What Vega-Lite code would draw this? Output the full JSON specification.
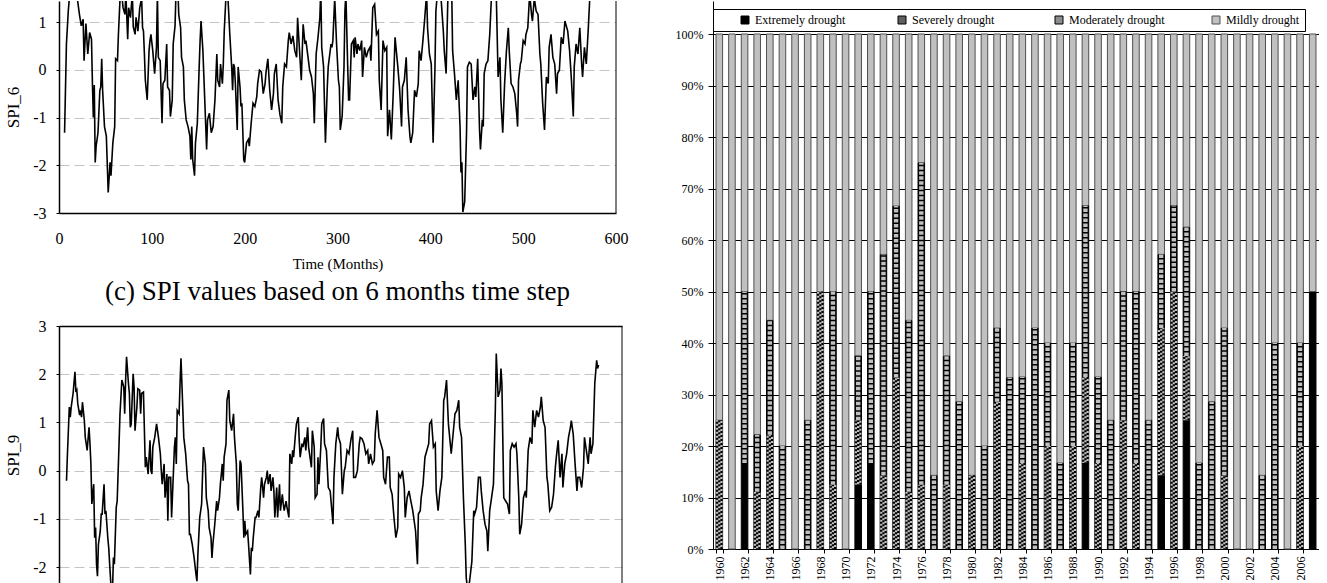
{
  "$schema": "https://vega.github.io/schema/vega-lite/v6.json",
  "padding": {"left": 4, "top": 0, "right": 0, "bottom": 0},
  "background": "white",
  "config": {
    "font": "Liberation Serif",
    "view": {"stroke": null},
    "axis": {"labelFont": "Liberation Serif", "titleFont": "Liberation Serif", "labelColor": "#000000", "titleColor": "#000000", "titleFontWeight": "normal", "domainColor": "#000000", "tickColor": "#000000"},
    "title": {"font": "Liberation Serif", "fontWeight": "normal", "color": "#000000"},
    "legend": {"labelFont": "Liberation Serif", "labelColor": "#000000"}
  },
  "resolve": {"scale": {"fill": "independent", "stroke": "independent"}, "legend": {"fill": "independent", "stroke": "independent"}},
  "datasets": {
    "spi6": [
      {"month":6,"spi":-1.32},{"month":8,"spi":0.54},{"month":10,"spi":1.23},{"month":12,"spi":1.7},{"month":15,"spi":1.9},{"month":19,"spi":1.6},{"month":22,"spi":1.16},{"month":24,"spi":0.92},{"month":26,"spi":1.06},{"month":27,"spi":0.19},{"month":29,"spi":0.97},{"month":31,"spi":0.33},{"month":33,"spi":0.78},{"month":35,"spi":0.64},{"month":36,"spi":-0.29},{"month":37,"spi":-1.0},{"month":38,"spi":-0.32},{"month":39,"spi":-1.94},{"month":40,"spi":-1.6},{"month":42,"spi":-1.32},{"month":44,"spi":-0.43},{"month":45,"spi":-0.36},{"month":46,"spi":0.23},{"month":47,"spi":-0.43},{"month":49,"spi":-1.19},{"month":51,"spi":-1.39},{"month":53,"spi":-2.57},{"month":55,"spi":-1.94},{"month":56,"spi":-2.22},{"month":58,"spi":-1.53},{"month":60,"spi":-1.19},{"month":61,"spi":0.23},{"month":63,"spi":0.19},{"month":64,"spi":0.74},{"month":66,"spi":1.6},{"month":67,"spi":1.7},{"month":69,"spi":1.3},{"month":71,"spi":1.16},{"month":72,"spi":1.6},{"month":74,"spi":0.64},{"month":75,"spi":1.3},{"month":77,"spi":1.09},{"month":79,"spi":1.6},{"month":80,"spi":0.9},{"month":82,"spi":0.74},{"month":83,"spi":1.1},{"month":85,"spi":0.81},{"month":87,"spi":1.3},{"month":89,"spi":1.5},{"month":90,"spi":0.88},{"month":91,"spi":0.81},{"month":92,"spi":0.33},{"month":93,"spi":-0.22},{"month":95,"spi":-0.63},{"month":97,"spi":0.4},{"month":98,"spi":0.61},{"month":99,"spi":0.74},{"month":101,"spi":0.4},{"month":103,"spi":-0.08},{"month":105,"spi":0.47},{"month":106,"spi":1.6},{"month":107,"spi":0.26},{"month":109,"spi":0.19},{"month":111,"spi":-1.12},{"month":112,"spi":-0.29},{"month":114,"spi":-0.22},{"month":116,"spi":0.54},{"month":117,"spi":-0.36},{"month":119,"spi":-0.43},{"month":120,"spi":-0.98},{"month":122,"spi":-0.63},{"month":123,"spi":0.54},{"month":125,"spi":0.92},{"month":126,"spi":1.6},{"month":128,"spi":1.7},{"month":129,"spi":1.16},{"month":131,"spi":0.88},{"month":132,"spi":0.26},{"month":134,"spi":0.06},{"month":135,"spi":-0.63},{"month":137,"spi":-1.05},{"month":139,"spi":-1.19},{"month":141,"spi":-1.39},{"month":142,"spi":-1.88},{"month":143,"spi":-1.19},{"month":144,"spi":-1.88},{"month":146,"spi":-2.22},{"month":147,"spi":-1.53},{"month":149,"spi":-1.12},{"month":151,"spi":0.06},{"month":152,"spi":0.61},{"month":153,"spi":1.02},{"month":155,"spi":0.4},{"month":157,"spi":-0.63},{"month":159,"spi":-1.67},{"month":160,"spi":-1.05},{"month":162,"spi":-0.91},{"month":164,"spi":-1.32},{"month":166,"spi":-1.19},{"month":168,"spi":-0.63},{"month":170,"spi":0.33},{"month":171,"spi":-0.22},{"month":173,"spi":-0.36},{"month":174,"spi":0.12},{"month":176,"spi":-0.29},{"month":177,"spi":0.12},{"month":178,"spi":0.81},{"month":180,"spi":1.6},{"month":182,"spi":1.5},{"month":184,"spi":0.74},{"month":186,"spi":0.06},{"month":187,"spi":-0.43},{"month":188,"spi":0.12},{"month":189,"spi":0.06},{"month":190,"spi":-0.29},{"month":192,"spi":-1.26},{"month":193,"spi":0.06},{"month":195,"spi":-0.36},{"month":196,"spi":-0.77},{"month":197,"spi":-0.7},{"month":199,"spi":-1.88},{"month":200,"spi":-1.94},{"month":202,"spi":-1.53},{"month":204,"spi":-1.46},{"month":205,"spi":-1.6},{"month":207,"spi":-1.12},{"month":209,"spi":-0.7},{"month":211,"spi":-0.77},{"month":213,"spi":-0.57},{"month":214,"spi":-0.29},{"month":216,"spi":-0.01},{"month":218,"spi":-0.05},{"month":220,"spi":-0.5},{"month":222,"spi":-0.29},{"month":223,"spi":-0.05},{"month":225,"spi":0.23},{"month":227,"spi":-0.43},{"month":229,"spi":-0.84},{"month":231,"spi":-0.5},{"month":232,"spi":-0.08},{"month":234,"spi":0.12},{"month":236,"spi":-0.63},{"month":238,"spi":-0.94},{"month":240,"spi":-1.12},{"month":241,"spi":-0.36},{"month":243,"spi":0.12},{"month":245,"spi":0.06},{"month":247,"spi":0.61},{"month":248,"spi":0.78},{"month":250,"spi":0.54},{"month":252,"spi":0.71},{"month":254,"spi":0.4},{"month":256,"spi":0.26},{"month":257,"spi":1.09},{"month":261,"spi":-0.22},{"month":263,"spi":0.95},{"month":265,"spi":0.54},{"month":266,"spi":0.61},{"month":268,"spi":0.3},{"month":270,"spi":-0.01},{"month":272,"spi":-0.15},{"month":274,"spi":-0.5},{"month":275,"spi":-1.12},{"month":277,"spi":0.33},{"month":279,"spi":0.68},{"month":281,"spi":1.09},{"month":282,"spi":1.7},{"month":283,"spi":0.47},{"month":285,"spi":0.06},{"month":287,"spi":-1.53},{"month":289,"spi":-0.36},{"month":290,"spi":0.06},{"month":293,"spi":0.54},{"month":294,"spi":0.47},{"month":295,"spi":0.61},{"month":297,"spi":1.5},{"month":299,"spi":0.54},{"month":301,"spi":-0.22},{"month":302,"spi":-0.36},{"month":303,"spi":-1.26},{"month":305,"spi":-0.98},{"month":307,"spi":0.06},{"month":308,"spi":1.23},{"month":309,"spi":1.6},{"month":311,"spi":0.06},{"month":312,"spi":-0.63},{"month":313,"spi":-0.63},{"month":315,"spi":0.54},{"month":317,"spi":0.61},{"month":318,"spi":0.26},{"month":319,"spi":0.68},{"month":321,"spi":0.33},{"month":322,"spi":0.54},{"month":324,"spi":0.4},{"month":326,"spi":0.61},{"month":327,"spi":-0.15},{"month":329,"spi":0.47},{"month":331,"spi":0.26},{"month":333,"spi":0.4},{"month":335,"spi":0.47},{"month":336,"spi":0.19},{"month":338,"spi":1.3},{"month":340,"spi":1.37},{"month":342,"spi":0.74},{"month":344,"spi":0.81},{"month":345,"spi":-0.22},{"month":347,"spi":-0.84},{"month":349,"spi":0.61},{"month":351,"spi":0.4},{"month":353,"spi":0.47},{"month":354,"spi":-1.39},{"month":356,"spi":-0.84},{"month":358,"spi":-1.46},{"month":360,"spi":-0.5},{"month":362,"spi":0.68},{"month":363,"spi":0.47},{"month":365,"spi":0.06},{"month":367,"spi":-0.43},{"month":369,"spi":-1.19},{"month":370,"spi":-0.36},{"month":372,"spi":-0.22},{"month":374,"spi":0.26},{"month":376,"spi":-0.84},{"month":378,"spi":-1.39},{"month":379,"spi":-1.53},{"month":381,"spi":-1.32},{"month":383,"spi":-0.43},{"month":385,"spi":-0.57},{"month":387,"spi":-0.29},{"month":388,"spi":0.4},{"month":390,"spi":0.19},{"month":392,"spi":0.61},{"month":394,"spi":1.09},{"month":396,"spi":1.6},{"month":397,"spi":0.88},{"month":399,"spi":0.33},{"month":401,"spi":0.12},{"month":403,"spi":-1.53},{"month":405,"spi":0.06},{"month":406,"spi":1.23},{"month":408,"spi":1.7},{"month":410,"spi":1.9},{"month":412,"spi":1.37},{"month":414,"spi":0.81},{"month":415,"spi":0.4},{"month":417,"spi":-0.08},{"month":419,"spi":1.6},{"month":421,"spi":2.0},{"month":423,"spi":1.7},{"month":424,"spi":0.4},{"month":426,"spi":-0.08},{"month":428,"spi":-0.63},{"month":430,"spi":-0.22},{"month":432,"spi":-1.19},{"month":433,"spi":-2.15},{"month":434,"spi":-1.94},{"month":435,"spi":-2.98},{"month":437,"spi":-2.77},{"month":439,"spi":-1.32},{"month":440,"spi":0.06},{"month":442,"spi":0.16},{"month":444,"spi":0.12},{"month":446,"spi":-0.63},{"month":448,"spi":-0.36},{"month":449,"spi":-0.57},{"month":451,"spi":0.23},{"month":453,"spi":-1.26},{"month":454,"spi":-1.67},{"month":456,"spi":-1.05},{"month":457,"spi":-1.19},{"month":458,"spi":-0.08},{"month":460,"spi":0.12},{"month":462,"spi":0.19},{"month":464,"spi":0.74},{"month":466,"spi":1.6},{"month":469,"spi":2.0},{"month":471,"spi":1.6},{"month":473,"spi":-0.15},{"month":475,"spi":0.26},{"month":476,"spi":-0.63},{"month":478,"spi":-1.32},{"month":480,"spi":-0.29},{"month":482,"spi":0.4},{"month":484,"spi":0.88},{"month":485,"spi":0.4},{"month":487,"spi":-0.29},{"month":489,"spi":-0.36},{"month":491,"spi":-0.5},{"month":493,"spi":-0.91},{"month":494,"spi":-1.19},{"month":495,"spi":-0.22},{"month":497,"spi":0.12},{"month":498,"spi":0.19},{"month":500,"spi":0.61},{"month":502,"spi":0.54},{"month":503,"spi":0.74},{"month":505,"spi":0.88},{"month":507,"spi":1.6},{"month":509,"spi":1.16},{"month":510,"spi":1.02},{"month":512,"spi":1.5},{"month":514,"spi":1.23},{"month":516,"spi":1.16},{"month":518,"spi":0.33},{"month":519,"spi":0.12},{"month":521,"spi":-0.7},{"month":523,"spi":-1.26},{"month":525,"spi":-0.15},{"month":527,"spi":-0.29},{"month":528,"spi":0.47},{"month":530,"spi":0.74},{"month":532,"spi":0.26},{"month":534,"spi":0.12},{"month":536,"spi":-0.5},{"month":537,"spi":-0.08},{"month":539,"spi":-0.01},{"month":541,"spi":0.68},{"month":543,"spi":0.54},{"month":545,"spi":1.02},{"month":546,"spi":0.95},{"month":548,"spi":0.81},{"month":550,"spi":0.4},{"month":552,"spi":-0.22},{"month":554,"spi":-0.98},{"month":555,"spi":0.06},{"month":557,"spi":0.54},{"month":559,"spi":0.33},{"month":561,"spi":0.88},{"month":563,"spi":0.12},{"month":564,"spi":-0.15},{"month":566,"spi":0.47},{"month":568,"spi":0.12},{"month":570,"spi":0.81},{"month":572,"spi":1.6},{"month":574,"spi":2.0}
    ],
    "spi9": [
      {"month":8,"spi":-0.21},{"month":9,"spi":0.35},{"month":11,"spi":1.32},{"month":12,"spi":1.11},{"month":13,"spi":1.32},{"month":15,"spi":1.6},{"month":17,"spi":2.05},{"month":18,"spi":1.63},{"month":19,"spi":1.67},{"month":20,"spi":1.39},{"month":22,"spi":1.15},{"month":23,"spi":1.25},{"month":24,"spi":1.11},{"month":25,"spi":1.42},{"month":27,"spi":1.04},{"month":28,"spi":0.69},{"month":29,"spi":0.56},{"month":30,"spi":0.42},{"month":32,"spi":0.9},{"month":33,"spi":0.56},{"month":34,"spi":0.14},{"month":35,"spi":-0.69},{"month":37,"spi":-0.28},{"month":38,"spi":-1.39},{"month":39,"spi":-1.18},{"month":40,"spi":-1.94},{"month":41,"spi":-2.19},{"month":42,"spi":-1.53},{"month":44,"spi":-1.25},{"month":45,"spi":-0.9},{"month":46,"spi":-0.9},{"month":48,"spi":-0.28},{"month":49,"spi":-0.9},{"month":50,"spi":-0.83},{"month":52,"spi":-1.39},{"month":53,"spi":-1.6},{"month":54,"spi":-1.94},{"month":56,"spi":-2.6},{"month":57,"spi":-2.5},{"month":58,"spi":-1.8},{"month":59,"spi":-1.94},{"month":61,"spi":-0.76},{"month":62,"spi":-0.63},{"month":64,"spi":0.56},{"month":65,"spi":1.18},{"month":67,"spi":1.88},{"month":69,"spi":1.74},{"month":70,"spi":1.18},{"month":71,"spi":1.88},{"month":72,"spi":2.36},{"month":74,"spi":1.81},{"month":75,"spi":1.6},{"month":76,"spi":0.9},{"month":77,"spi":0.97},{"month":79,"spi":2.01},{"month":80,"spi":1.74},{"month":81,"spi":0.83},{"month":83,"spi":1.32},{"month":84,"spi":1.7},{"month":86,"spi":1.67},{"month":87,"spi":1.18},{"month":88,"spi":1.6},{"month":90,"spi":1.63},{"month":92,"spi":0.07},{"month":93,"spi":0.28},{"month":95,"spi":-0.07},{"month":97,"spi":0.63},{"month":98,"spi":0.0},{"month":99,"spi":-0.07},{"month":100,"spi":0.49},{"month":102,"spi":0.69},{"month":104,"spi":0.97},{"month":106,"spi":0.69},{"month":108,"spi":0.35},{"month":109,"spi":0.0},{"month":110,"spi":-0.28},{"month":112,"spi":0.14},{"month":113,"spi":-0.56},{"month":115,"spi":-0.07},{"month":116,"spi":-1.04},{"month":117,"spi":-0.14},{"month":119,"spi":-0.14},{"month":120,"spi":-0.97},{"month":122,"spi":0.0},{"month":123,"spi":0.49},{"month":124,"spi":0.69},{"month":125,"spi":0.14},{"month":126,"spi":1.25},{"month":128,"spi":1.18},{"month":129,"spi":1.81},{"month":130,"spi":2.33},{"month":132,"spi":1.25},{"month":133,"spi":0.69},{"month":135,"spi":0.35},{"month":137,"spi":-0.21},{"month":138,"spi":-0.28},{"month":139,"spi":-1.32},{"month":140,"spi":-1.32},{"month":142,"spi":-1.53},{"month":143,"spi":-1.67},{"month":144,"spi":-1.81},{"month":146,"spi":-2.15},{"month":147,"spi":-2.29},{"month":148,"spi":-1.74},{"month":150,"spi":-0.97},{"month":152,"spi":-0.69},{"month":153,"spi":-0.07},{"month":154,"spi":0.49},{"month":156,"spi":0.14},{"month":157,"spi":-0.56},{"month":159,"spi":-0.83},{"month":160,"spi":-1.18},{"month":162,"spi":-1.39},{"month":163,"spi":-1.81},{"month":164,"spi":-1.53},{"month":166,"spi":-1.11},{"month":168,"spi":-0.63},{"month":169,"spi":-0.83},{"month":171,"spi":-0.56},{"month":172,"spi":-0.28},{"month":174,"spi":0.14},{"month":175,"spi":-0.21},{"month":176,"spi":0.28},{"month":178,"spi":0.56},{"month":179,"spi":1.46},{"month":181,"spi":1.67},{"month":182,"spi":1.04},{"month":184,"spi":0.83},{"month":186,"spi":1.18},{"month":187,"spi":0.69},{"month":189,"spi":0.14},{"month":190,"spi":-0.69},{"month":191,"spi":-0.83},{"month":193,"spi":0.21},{"month":194,"spi":0.14},{"month":196,"spi":-0.83},{"month":197,"spi":-1.39},{"month":198,"spi":-1.04},{"month":199,"spi":-1.32},{"month":201,"spi":-1.25},{"month":202,"spi":-1.53},{"month":204,"spi":-2.15},{"month":205,"spi":-1.6},{"month":206,"spi":-1.67},{"month":207,"spi":-1.39},{"month":209,"spi":-0.97},{"month":210,"spi":-0.97},{"month":212,"spi":-0.83},{"month":213,"spi":-0.97},{"month":215,"spi":-0.35},{"month":216,"spi":-0.14},{"month":218,"spi":-0.56},{"month":219,"spi":-0.28},{"month":221,"spi":-0.14},{"month":222,"spi":0.0},{"month":223,"spi":-0.28},{"month":225,"spi":-0.07},{"month":226,"spi":-0.42},{"month":228,"spi":-0.14},{"month":229,"spi":-0.42},{"month":230,"spi":-0.97},{"month":232,"spi":-0.35},{"month":233,"spi":-0.97},{"month":235,"spi":-0.28},{"month":236,"spi":-0.83},{"month":238,"spi":-0.49},{"month":239,"spi":-0.69},{"month":240,"spi":-0.83},{"month":242,"spi":-0.63},{"month":243,"spi":-0.76},{"month":245,"spi":-0.97},{"month":246,"spi":0.35},{"month":248,"spi":0.14},{"month":249,"spi":0.42},{"month":250,"spi":0.28},{"month":252,"spi":0.76},{"month":253,"spi":0.97},{"month":255,"spi":1.11},{"month":256,"spi":0.63},{"month":257,"spi":0.28},{"month":259,"spi":0.56},{"month":260,"spi":0.49},{"month":262,"spi":0.69},{"month":263,"spi":0.42},{"month":265,"spi":0.9},{"month":266,"spi":0.49},{"month":267,"spi":0.35},{"month":269,"spi":0.07},{"month":270,"spi":0.83},{"month":272,"spi":0.49},{"month":273,"spi":-0.56},{"month":275,"spi":-0.49},{"month":276,"spi":0.28},{"month":277,"spi":-0.28},{"month":279,"spi":0.49},{"month":280,"spi":0.97},{"month":282,"spi":1.08},{"month":283,"spi":0.56},{"month":285,"spi":0.42},{"month":287,"spi":-0.35},{"month":289,"spi":-0.42},{"month":292,"spi":-1.11},{"month":293,"spi":-0.14},{"month":295,"spi":0.56},{"month":297,"spi":0.9},{"month":298,"spi":0.69},{"month":300,"spi":0.56},{"month":302,"spi":-0.49},{"month":304,"spi":0.0},{"month":305,"spi":0.07},{"month":307,"spi":0.42},{"month":309,"spi":0.35},{"month":311,"spi":0.63},{"month":313,"spi":0.83},{"month":314,"spi":-0.14},{"month":316,"spi":-0.14},{"month":318,"spi":0.0},{"month":320,"spi":0.56},{"month":321,"spi":0.69},{"month":323,"spi":0.66},{"month":325,"spi":0.56},{"month":327,"spi":0.35},{"month":329,"spi":0.42},{"month":330,"spi":0.14},{"month":332,"spi":0.35},{"month":334,"spi":0.14},{"month":336,"spi":0.21},{"month":337,"spi":0.76},{"month":339,"spi":1.25},{"month":341,"spi":0.69},{"month":343,"spi":0.56},{"month":345,"spi":0.42},{"month":346,"spi":-0.14},{"month":348,"spi":-0.28},{"month":350,"spi":0.28},{"month":352,"spi":0.28},{"month":353,"spi":-0.35},{"month":355,"spi":-0.49},{"month":357,"spi":-0.97},{"month":359,"spi":-1.39},{"month":361,"spi":-1.18},{"month":362,"spi":-0.07},{"month":364,"spi":-0.14},{"month":366,"spi":0.0},{"month":368,"spi":-0.35},{"month":369,"spi":-0.97},{"month":371,"spi":-0.56},{"month":373,"spi":-0.42},{"month":375,"spi":-0.63},{"month":377,"spi":-0.83},{"month":378,"spi":-0.97},{"month":380,"spi":-1.25},{"month":382,"spi":-1.94},{"month":383,"spi":-0.9},{"month":385,"spi":-0.83},{"month":386,"spi":-0.56},{"month":388,"spi":-0.28},{"month":390,"spi":0.28},{"month":392,"spi":0.42},{"month":394,"spi":0.56},{"month":395,"spi":0.97},{"month":397,"spi":1.04},{"month":399,"spi":0.49},{"month":401,"spi":0.56},{"month":402,"spi":-0.42},{"month":404,"spi":-0.83},{"month":406,"spi":-0.42},{"month":408,"spi":-0.14},{"month":410,"spi":1.46},{"month":411,"spi":1.53},{"month":413,"spi":1.88},{"month":415,"spi":0.97},{"month":417,"spi":0.56},{"month":418,"spi":0.35},{"month":420,"spi":0.76},{"month":422,"spi":1.18},{"month":424,"spi":1.25},{"month":426,"spi":1.46},{"month":427,"spi":0.9},{"month":429,"spi":0.69},{"month":431,"spi":-0.56},{"month":433,"spi":-1.53},{"month":434,"spi":-2.22},{"month":436,"spi":-2.55},{"month":438,"spi":-2.22},{"month":440,"spi":-1.88},{"month":442,"spi":-0.83},{"month":443,"spi":-0.9},{"month":445,"spi":-0.76},{"month":447,"spi":-0.14},{"month":449,"spi":-0.14},{"month":450,"spi":-0.42},{"month":452,"spi":-0.83},{"month":454,"spi":-1.11},{"month":456,"spi":-1.25},{"month":457,"spi":-1.67},{"month":459,"spi":-0.83},{"month":461,"spi":-0.56},{"month":463,"spi":-0.28},{"month":465,"spi":1.25},{"month":466,"spi":2.43},{"month":468,"spi":1.53},{"month":470,"spi":1.67},{"month":471,"spi":2.12},{"month":472,"spi":1.81},{"month":474,"spi":-0.56},{"month":476,"spi":-0.63},{"month":478,"spi":-0.69},{"month":480,"spi":-0.9},{"month":481,"spi":0.42},{"month":483,"spi":0.56},{"month":485,"spi":0.49},{"month":487,"spi":0.56},{"month":488,"spi":0.35},{"month":490,"spi":-0.56},{"month":491,"spi":-1.32},{"month":493,"spi":-1.11},{"month":495,"spi":-0.56},{"month":497,"spi":-0.42},{"month":498,"spi":-0.56},{"month":500,"spi":0.42},{"month":502,"spi":0.69},{"month":504,"spi":0.56},{"month":505,"spi":1.25},{"month":507,"spi":0.9},{"month":509,"spi":1.25},{"month":511,"spi":1.11},{"month":513,"spi":1.32},{"month":514,"spi":1.53},{"month":516,"spi":1.04},{"month":518,"spi":0.9},{"month":520,"spi":-0.14},{"month":521,"spi":-0.28},{"month":523,"spi":-0.83},{"month":525,"spi":-0.76},{"month":527,"spi":-0.49},{"month":529,"spi":0.07},{"month":530,"spi":0.28},{"month":532,"spi":0.63},{"month":534,"spi":-0.14},{"month":536,"spi":0.35},{"month":537,"spi":-0.35},{"month":539,"spi":0.14},{"month":541,"spi":0.35},{"month":543,"spi":0.69},{"month":545,"spi":0.9},{"month":546,"spi":1.04},{"month":548,"spi":0.76},{"month":550,"spi":0.14},{"month":552,"spi":-0.42},{"month":553,"spi":-0.14},{"month":555,"spi":-0.14},{"month":557,"spi":-0.35},{"month":559,"spi":0.07},{"month":560,"spi":0.69},{"month":562,"spi":0.42},{"month":564,"spi":0.14},{"month":566,"spi":0.69},{"month":567,"spi":0.35},{"month":569,"spi":0.56},{"month":571,"spi":1.81},{"month":573,"spi":2.29},{"month":574,"spi":2.12},{"month":575,"spi":2.19}
    ],
    "drought": [
      {"year":1960,"Extremely drought":0,"Severely drought":25,"Moderately drought":0,"Mildly drought":75},
      {"year":1961,"Extremely drought":0,"Severely drought":0,"Moderately drought":0,"Mildly drought":100},
      {"year":1962,"Extremely drought":16.7,"Severely drought":0,"Moderately drought":33.3,"Mildly drought":50},
      {"year":1963,"Extremely drought":0,"Severely drought":11.1,"Moderately drought":11.1,"Mildly drought":77.8},
      {"year":1964,"Extremely drought":0,"Severely drought":22.2,"Moderately drought":22.2,"Mildly drought":55.6},
      {"year":1965,"Extremely drought":0,"Severely drought":0,"Moderately drought":20,"Mildly drought":80},
      {"year":1966,"Extremely drought":0,"Severely drought":0,"Moderately drought":0,"Mildly drought":100},
      {"year":1967,"Extremely drought":0,"Severely drought":0,"Moderately drought":25,"Mildly drought":75},
      {"year":1968,"Extremely drought":0,"Severely drought":50,"Moderately drought":0,"Mildly drought":50},
      {"year":1969,"Extremely drought":0,"Severely drought":12.5,"Moderately drought":37.5,"Mildly drought":50},
      {"year":1970,"Extremely drought":0,"Severely drought":0,"Moderately drought":0,"Mildly drought":100},
      {"year":1971,"Extremely drought":12.5,"Severely drought":12.5,"Moderately drought":12.5,"Mildly drought":62.5},
      {"year":1972,"Extremely drought":16.7,"Severely drought":0,"Moderately drought":33.3,"Mildly drought":50},
      {"year":1973,"Extremely drought":0,"Severely drought":14.3,"Moderately drought":42.9,"Mildly drought":42.8},
      {"year":1974,"Extremely drought":0,"Severely drought":33.3,"Moderately drought":33.3,"Mildly drought":33.4},
      {"year":1975,"Extremely drought":0,"Severely drought":11.1,"Moderately drought":33.3,"Mildly drought":55.6},
      {"year":1976,"Extremely drought":0,"Severely drought":12.5,"Moderately drought":62.5,"Mildly drought":25},
      {"year":1977,"Extremely drought":0,"Severely drought":0,"Moderately drought":14.3,"Mildly drought":85.7},
      {"year":1978,"Extremely drought":0,"Severely drought":12.5,"Moderately drought":25,"Mildly drought":62.5},
      {"year":1979,"Extremely drought":0,"Severely drought":0,"Moderately drought":28.6,"Mildly drought":71.4},
      {"year":1980,"Extremely drought":0,"Severely drought":14.3,"Moderately drought":0,"Mildly drought":85.7},
      {"year":1981,"Extremely drought":0,"Severely drought":0,"Moderately drought":20,"Mildly drought":80},
      {"year":1982,"Extremely drought":0,"Severely drought":28.6,"Moderately drought":14.3,"Mildly drought":57.1},
      {"year":1983,"Extremely drought":0,"Severely drought":0,"Moderately drought":33.3,"Mildly drought":66.7},
      {"year":1984,"Extremely drought":0,"Severely drought":16.7,"Moderately drought":16.7,"Mildly drought":66.6},
      {"year":1985,"Extremely drought":0,"Severely drought":0,"Moderately drought":42.9,"Mildly drought":57.1},
      {"year":1986,"Extremely drought":0,"Severely drought":20,"Moderately drought":20,"Mildly drought":60},
      {"year":1987,"Extremely drought":0,"Severely drought":0,"Moderately drought":16.7,"Mildly drought":83.3},
      {"year":1988,"Extremely drought":0,"Severely drought":20,"Moderately drought":20,"Mildly drought":60},
      {"year":1989,"Extremely drought":16.7,"Severely drought":16.7,"Moderately drought":33.3,"Mildly drought":33.3},
      {"year":1990,"Extremely drought":0,"Severely drought":16.7,"Moderately drought":16.7,"Mildly drought":66.6},
      {"year":1991,"Extremely drought":0,"Severely drought":0,"Moderately drought":25,"Mildly drought":75},
      {"year":1992,"Extremely drought":0,"Severely drought":25,"Moderately drought":25,"Mildly drought":50},
      {"year":1993,"Extremely drought":0,"Severely drought":16.7,"Moderately drought":33.3,"Mildly drought":50},
      {"year":1994,"Extremely drought":0,"Severely drought":0,"Moderately drought":25,"Mildly drought":75},
      {"year":1995,"Extremely drought":14.3,"Severely drought":28.6,"Moderately drought":14.3,"Mildly drought":42.8},
      {"year":1996,"Extremely drought":0,"Severely drought":50,"Moderately drought":16.7,"Mildly drought":33.3},
      {"year":1997,"Extremely drought":25,"Severely drought":12.5,"Moderately drought":25,"Mildly drought":37.5},
      {"year":1998,"Extremely drought":0,"Severely drought":0,"Moderately drought":16.7,"Mildly drought":83.3},
      {"year":1999,"Extremely drought":0,"Severely drought":0,"Moderately drought":28.6,"Mildly drought":71.4},
      {"year":2000,"Extremely drought":0,"Severely drought":14.3,"Moderately drought":28.6,"Mildly drought":57.1},
      {"year":2001,"Extremely drought":0,"Severely drought":0,"Moderately drought":0,"Mildly drought":100},
      {"year":2002,"Extremely drought":0,"Severely drought":0,"Moderately drought":0,"Mildly drought":100},
      {"year":2003,"Extremely drought":0,"Severely drought":0,"Moderately drought":14.3,"Mildly drought":85.7},
      {"year":2004,"Extremely drought":0,"Severely drought":0,"Moderately drought":40,"Mildly drought":60},
      {"year":2005,"Extremely drought":0,"Severely drought":0,"Moderately drought":0,"Mildly drought":100},
      {"year":2006,"Extremely drought":0,"Severely drought":20,"Moderately drought":20,"Mildly drought":60},
      {"year":2007,"Extremely drought":50,"Severely drought":0,"Moderately drought":0,"Mildly drought":50}
    ]
  },
  "spacing": 47,
  "hconcat": [
    {
      "spacing": 13,
      "vconcat": [
        {
          "width": 557,
          "height": 212,
          "data": {"name": "spi6"},
          "title": {"text": "(c) SPI values based on 6 months time step", "orient": "bottom", "fontSize": 27, "offset": 8, "frame": "group"},
          "layer": [
            {
              "mark": {"type": "line", "color": "#000000", "strokeWidth": 1.6, "clip": true},
              "encoding": {
                "x": {"field": "month", "type": "quantitative", "scale": {"domain": [0, 600], "nice": false},
                      "axis": {"values": [0, 100, 200, 300, 400, 500, 600], "title": "Time (Months)", "grid": false, "ticks": false, "labelPadding": 17, "titlePadding": 10, "labelFontSize": 16, "titleFontSize": 15, "labelFlush": false, "domainWidth": 1.5}},
                "y": {"field": "spi", "type": "quantitative", "scale": {"domain": [-3, 1.44], "nice": false, "zero": false},
                      "axis": {"values": [-3, -2, -1, 0, 1], "labelExpr": "'' + datum.value", "title": "SPI_6", "grid": true, "gridDash": [10, 5], "gridColor": "#c4c4c4", "tickSize": 3, "labelPadding": 10, "labelFontSize": 16, "titleFontSize": 17, "titlePadding": 10, "domainWidth": 1.5}}
              }
            },
            {
              "data": {"values": [{}]},
              "mark": {"type": "rule", "color": "#000000", "strokeWidth": 1},
              "encoding": {"x": {"datum": 600}}
            }
          ]
        },
        {
          "width": 563,
          "height": 258,
          "data": {"name": "spi9"},
          "layer": [
            {
              "mark": {"type": "line", "color": "#000000", "strokeWidth": 1.6, "clip": true},
              "encoding": {
                "x": {"field": "month", "type": "quantitative", "scale": {"domain": [0, 600], "nice": false},
                      "axis": {"orient": "top", "labels": false, "ticks": false, "title": null, "grid": false, "domainWidth": 1.5}},
                "y": {"field": "spi", "type": "quantitative", "scale": {"domain": [-2.35, 3], "nice": false, "zero": false},
                      "axis": {"values": [-2, -1, 0, 1, 2, 3], "labelExpr": "'' + datum.value", "title": "SPI_9", "grid": true, "gridDash": [10, 5], "gridColor": "#c4c4c4", "tickSize": 3, "labelPadding": 10, "labelFontSize": 16, "titleFontSize": 17, "titlePadding": 10, "domainWidth": 1.5}}
              }
            },
            {
              "data": {"values": [{}]},
              "mark": {"type": "rule", "color": "#000000", "strokeWidth": 1},
              "encoding": {"x": {"datum": 600}}
            }
          ]
        }
      ]
    },
    {
      "width": 606,
      "height": 548,
      "data": {"name": "drought"},
      "resolve": {"axis": {"y": "independent"}},
      "transform": [
        {"fold": ["Extremely drought", "Severely drought", "Moderately drought", "Mildly drought"], "as": ["class", "pct"]},
        {"filter": "datum.pct > 0"},
        {"stack": "pct", "groupby": ["year"], "offset": "normalize", "as": ["p0", "p1"]}
      ],
      "layer": [
        {
          "mark": {"type": "bar", "strokeWidth": 1},
          "encoding": {
            "x": {"field": "year", "type": "ordinal", "scale": {"paddingInner": 0.48, "paddingOuter": 0.24},
                  "axis": {"values": [1960,1962,1964,1966,1968,1970,1972,1974,1976,1978,1980,1982,1984,1986,1988,1990,1992,1994,1996,1998,2000,2002,2004,2006], "labelAngle": 270, "labelFontSize": 12, "labelPadding": 3, "tickSize": 4, "tickBand": "extent", "title": null, "grid": false}},
            "y": {"field": "p0", "type": "quantitative", "scale": {"domain": [0, 1.06408], "nice": false},
                  "axis": {"values": [0,0.1,0.2,0.3,0.4,0.5,0.6,0.7,0.8,0.9,1], "format": ".0%", "title": null, "labelFontSize": 12, "labelPadding": 5, "tickSize": 5, "grid": true, "gridColor": "#000000", "gridOpacity": 1, "gridWidth": 1}},
            "y2": {"field": "p1"},
            "fill": {"field": "class", "type": "nominal",
                     "scale": {"domain": ["Extremely drought", "Severely drought", "Moderately drought", "Mildly drought"], "range": ["#000000", "#606060", "#8c8c8c", "#c0c0c0"]},
                     "legend": {"orient": "none", "legendX": 0, "legendY": 8, "direction": "horizontal", "columns": 4, "title": null, "strokeColor": "#000000", "fillColor": "#ffffff", "padding": 5, "symbolType": "square", "symbolSize": 64, "symbolOffset": 21, "labelOffset": 4, "gridAlign": "all", "columnPadding": 24, "labelFontSize": 12, "symbolStrokeColor": "#000000", "symbolStrokeWidth": 1}},
            "stroke": {"field": "class", "type": "nominal",
                       "scale": {"domain": ["Extremely drought", "Severely drought", "Moderately drought", "Mildly drought"], "range": ["#000000", "#000000", "#000000", "#505050"]},
                       "legend": null}
          }
        },
        {
          "transform": [{"filter": "datum.class == 'Severely drought'"}],
          "mark": {"type": "rule", "color": "#c0c0c0", "strokeWidth": 6.5},
          "encoding": {"x": {"field": "year", "type": "ordinal"}, "y": {"field": "p0", "type": "quantitative", "axis": null}, "y2": {"field": "p1"}}
        },
        {
          "transform": [{"filter": "datum.class == 'Severely drought'"}],
          "mark": {"type": "rule", "color": "#000000", "strokeWidth": 2.3, "strokeDash": [2, 2], "strokeDashOffset": 2.67, "xOffset": -2.2},
          "encoding": {"x": {"field": "year", "type": "ordinal"}, "y": {"field": "p0", "type": "quantitative", "axis": null}, "y2": {"field": "p1"}}
        },
        {
          "transform": [{"filter": "datum.class == 'Severely drought'"}],
          "mark": {"type": "rule", "color": "#000000", "strokeWidth": 2.3, "strokeDash": [2, 2], "strokeDashOffset": 1.33},
          "encoding": {"x": {"field": "year", "type": "ordinal"}, "y": {"field": "p0", "type": "quantitative", "axis": null}, "y2": {"field": "p1"}}
        },
        {
          "transform": [{"filter": "datum.class == 'Severely drought'"}],
          "mark": {"type": "rule", "color": "#000000", "strokeWidth": 2.3, "strokeDash": [2, 2], "strokeDashOffset": 0, "xOffset": 2.2},
          "encoding": {"x": {"field": "year", "type": "ordinal"}, "y": {"field": "p0", "type": "quantitative", "axis": null}, "y2": {"field": "p1"}}
        },
        {
          "transform": [{"filter": "datum.class == 'Moderately drought'"}],
          "mark": {"type": "rule", "color": "#000000", "strokeWidth": 6.5},
          "encoding": {"x": {"field": "year", "type": "ordinal"}, "y": {"field": "p0", "type": "quantitative", "axis": null}, "y2": {"field": "p1"}}
        },
        {
          "transform": [{"filter": "datum.class == 'Moderately drought'"}],
          "mark": {"type": "rule", "color": "#c0c0c0", "strokeWidth": 4.4, "strokeDash": [3.5, 1.5]},
          "encoding": {"x": {"field": "year", "type": "ordinal"}, "y": {"field": "p0", "type": "quantitative", "axis": {"orient": "right", "labels": false, "ticks": false, "grid": false, "title": null, "domain": true, "domainColor": "#000000"}}, "y2": {"field": "p1"}}
        }
      ]
    }
  ]
}
